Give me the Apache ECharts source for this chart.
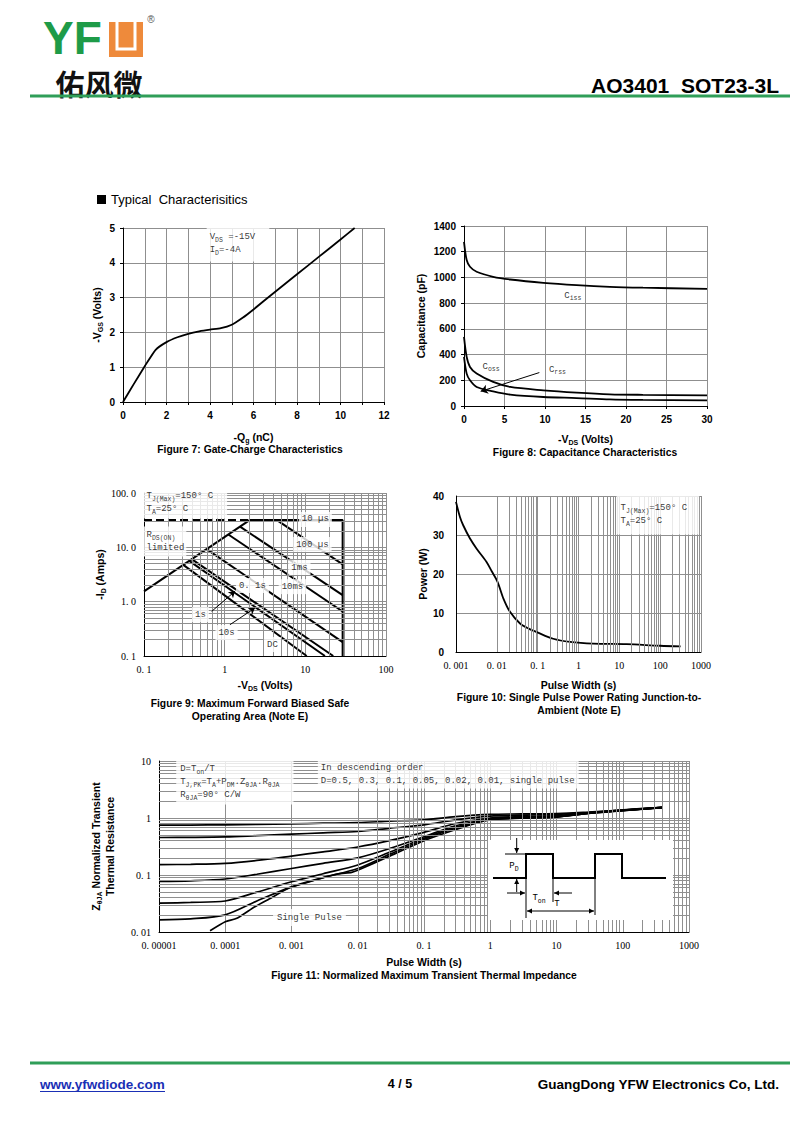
<!DOCTYPE html>
<html><head><meta charset="utf-8">
<script src="https://cdn.jsdelivr.net/npm/echarts@6/dist/echarts.min.js"></script>
<style>html,body{margin:0;padding:0;background:#fff}#c{width:800px;height:1125px}</style>
</head><body><div id="c"></div>
<script>
// ================= DATA =================
// Figure 7: Gate charge
const fig7Qg  = [0, 0.5, 1, 1.5, 2, 2.5, 3, 3.5, 4, 4.5, 5, 5.5, 6, 7, 8, 9, 10, 10.65];
const fig7Vgs = [0, 0.52, 1.03, 1.5, 1.72, 1.86, 1.96, 2.03, 2.08, 2.12, 2.22, 2.42, 2.66, 3.17, 3.67, 4.17, 4.67, 5.0];
const fig7XTicks = [0, 2, 4, 6, 8, 10, 12];

// Figure 8: Capacitance
const fig8Vds  = [0, 0.33, 0.74, 1.56, 3.6, 5.7, 9.8, 13.9, 18, 22.1, 30];
const fig8Ciss = [1277, 1135, 1083, 1044, 1005, 984, 958, 940, 927, 920, 911];
const fig8Coss = [537, 382, 304, 252, 187, 148, 122, 104, 91, 87, 83];
const fig8Crss = [382, 252, 200, 148, 114, 89, 70, 62, 52, 48, 44];
const fig8CrssPointer = [[9.3, 260], [2.06, 114]];

// Figure 9: SOA (x = -VDS, y = -ID)
const fig9XTickLabels = ['0. 1', '1', '10', '100'];
const fig9YTickLabels = ['0. 1', '1. 0', '10. 0', '100. 0'];
const fig9Rds     = [[0.1, 1.55], [2.06, 32]];
const fig9Limit   = [[0.1, 32], [2.06, 32]];
const fig9Top10us = [[2.06, 32], [29, 32], [29, 0.1]];
const fig9L100us  = [[4.4, 32], [29, 4.86]];
const fig9L1ms    = [[1.55, 24.0], [29, 1.32]];
const fig9L10ms   = [[1.11, 17.2], [29, 0.66]];
const fig9L100ms  = [[0.598, 9.27], [29, 0.18]];
const fig9L1s     = [[0.39, 6.05], [22.2, 0.1]];
const fig9L10s    = [[0.364, 5.64], [17.5, 0.1]];
const fig9LDC     = [[0.307, 4.76], [10.4, 0.1]];
const fig9Arrow1s  = [[0.69, 0.662], [1.34, 1.55]];
const fig9Arrow10s = [[1.16, 0.376], [2.37, 0.762]];

// Figure 10: single pulse power
const fig10T = [0.001, 0.00125, 0.0015, 0.0022, 0.0032, 0.0056, 0.0075, 0.0104, 0.0145, 0.021, 0.037, 0.06, 0.095, 0.24, 0.62, 2.3, 15, 100, 316];
const fig10P = [38.5, 34.6, 32.5, 29.1, 26.5, 23.1, 20.7, 18.0, 13.7, 10.3, 7.3, 6.0, 5.1, 3.4, 2.6, 2.15, 2.0, 1.6, 1.45];
const fig10XTickLabels = ['0. 001', '0. 01', '0. 1', '1', '10', '100', '1000'];

// Figure 11: transient thermal impedance
const fig11XTickLabels = ['0. 00001', '0. 0001', '0. 001', '0. 01', '0. 1', '1', '10', '100', '1000'];
const fig11YTickLabels = ['0. 01', '0. 1', '1', '10'];
const fig11T    = [1e-5, 3e-5, 1e-4, 3e-4, 1e-3, 3e-3, 1e-2, 3e-2, 0.1, 0.3, 1, 3, 10, 30, 100, 400];
const fig11D050 = [0.75, 0.752, 0.76, 0.775, 0.79, 0.81, 0.83, 0.88, 0.93, 1.06, 1.16, 1.18, 1.2, 1.27, 1.38, 1.54];
const fig11D030 = [0.455, 0.457, 0.465, 0.49, 0.52, 0.55, 0.58, 0.66, 0.76, 0.93, 1.08, 1.12, 1.16, 1.25, 1.37, 1.53];
const fig11D010 = [0.152, 0.154, 0.16, 0.18, 0.215, 0.255, 0.31, 0.40, 0.56, 0.8, 1.0, 1.06, 1.1, 1.23, 1.36, 1.53];
const fig11D005 = [0.077, 0.079, 0.085, 0.103, 0.13, 0.16, 0.2, 0.29, 0.47, 0.73, 0.96, 1.03, 1.07, 1.22, 1.36, 1.52];
const fig11D002 = [0.032, 0.033, 0.035, 0.05, 0.076, 0.105, 0.15, 0.25, 0.44, 0.69, 0.94, 1.01, 1.05, 1.21, 1.35, 1.52];
const fig11D001 = [0.0163, 0.017, 0.02, 0.035, 0.062, 0.09, 0.13, 0.23, 0.42, 0.66, 0.93, 1.0, 1.04, 1.2, 1.35, 1.52];
const fig11SingleT = [5.9e-5, 1e-4, 1.5e-4, 2.8e-4, 5e-4, 8.9e-4, 2.3e-3, 5e-3, 8.1e-3, 1.02e-2, 2.9e-2, 0.1, 0.28, 0.88, 2.8, 8.9, 29, 91, 395];
const fig11Single  = [0.0105, 0.0151, 0.0174, 0.0278, 0.04, 0.0583, 0.0817, 0.104, 0.111, 0.122, 0.21, 0.40, 0.61, 0.92, 0.99, 1.03, 1.21, 1.38, 1.54];

// ================= STYLE =================
const GRIDC = '#8f8f8f';
const SANS = '"Liberation Sans", Arial, sans-serif';
const SERIF = '"Liberation Serif", "Times New Roman", serif';
const MONO = '"Liberation Mono", "DejaVu Sans Mono", monospace';
const RICH = {
  n:  {fontFamily: MONO, fontSize: 9, lineHeight: 13, color: '#000'},
  s:  {fontFamily: MONO, fontSize: 6.5, lineHeight: 8, verticalAlign: 'bottom', color: '#000'},
  b:  {fontFamily: SANS, fontSize: 10.5, fontWeight: 'bold', lineHeight: 14, color: '#000'},
  bs: {fontFamily: SANS, fontSize: 7, fontWeight: 'bold', lineHeight: 9, verticalAlign: 'bottom', color: '#000'}
};
const zip = (xs, ys) => xs.map((x, i) => [x, ys[i]]);
const decadeFmt = (labels, min) => v => {
  const i = Math.round(Math.log10(v)) - Math.round(Math.log10(min));
  return labels[i] !== undefined ? labels[i] : '';
};

function lin(gi, data, o = {}) {
  return {type: 'line', xAxisIndex: gi, yAxisIndex: gi, data, symbol: 'none', showSymbol: false,
    silent: true, animation: false, z: 3, smooth: o.smooth || false,
    lineStyle: {color: '#000', width: o.width || 1.8, type: o.type || 'solid'}};
}
function minorGrid(gi, xr, yr, anchor) {
  const data = [];
  if (xr) for (let d = xr[0]; d < xr[1]; d++) for (let m = 2; m <= 9; m++) data.push({xAxis: +(m * Math.pow(10, d)).toPrecision(6)});
  if (yr) for (let d = yr[0]; d < yr[1]; d++) for (let m = 2; m <= 9; m++) data.push({yAxis: +(m * Math.pow(10, d)).toPrecision(6)});
  return {type: 'line', xAxisIndex: gi, yAxisIndex: gi, data: [anchor], symbol: 'none', silent: true, z: 1,
    lineStyle: {opacity: 0}, animation: false,
    markLine: {silent: true, symbol: ['none', 'none'], label: {show: false}, animation: false,
      lineStyle: {color: GRIDC, width: 1, type: 'solid'}, emphasis: {disabled: true}, data}};
}
function arrowLine(gi, pts, o = {}) {
  return {type: 'line', xAxisIndex: gi, yAxisIndex: gi, data: [pts[0]], symbol: 'none', silent: true, z: 4,
    lineStyle: {opacity: 0}, animation: false,
    markLine: {silent: true, symbol: ['none', 'arrow'], symbolSize: o.size || 7, label: {show: false}, animation: false,
      lineStyle: {color: '#000', width: 1, type: 'solid'}, emphasis: {disabled: true},
      data: [[{coord: pts[0]}, {coord: pts[1]}]]}};
}
function ann(x, y, text, o = {}) {
  return {value: [x, y], label: Object.assign({show: true, formatter: text, position: [0, 0], align: 'center',
    verticalAlign: 'middle', fontFamily: MONO, fontSize: 9, color: '#000', rich: RICH}, o)};
}
function annSeries(gi, items) {
  return {type: 'scatter', xAxisIndex: gi, yAxisIndex: gi, symbolSize: 1, itemStyle: {color: 'rgba(0,0,0,0)'},
    silent: true, z: 6, animation: false, data: items};
}

// axis helpers
function valAxis(gi, min, max, interval, o = {}) {
  return Object.assign({gridIndex: gi, type: 'value', min, max, interval,
    axisLine: {show: true, onZero: false, lineStyle: {color: '#000', width: 1}},
    axisTick: {show: true, inside: false, length: 3, lineStyle: {color: '#000'}},
    splitLine: {show: true, lineStyle: {color: GRIDC, width: 1}},
    axisLabel: {fontFamily: SANS, fontWeight: 'bold', fontSize: 10, color: '#000', margin: 8, formatter: v => String(v),
      showMinLabel: true, showMaxLabel: true, hideOverlap: false},
    nameLocation: 'middle', nameTextStyle: {rich: RICH}}, o);
}
function logAxis(gi, min, max, labels, o = {}) {
  return Object.assign({gridIndex: gi, type: 'log', logBase: 10, min, max,
    axisLine: {show: true, onZero: false, lineStyle: {color: '#000', width: 1}},
    axisTick: {show: false},
    splitLine: {show: true, lineStyle: {color: GRIDC, width: 1}},
    axisLabel: {fontFamily: SERIF, fontSize: 10, color: '#000', margin: 8, formatter: decadeFmt(labels, min), showMinLabel: true, showMaxLabel: true, hideOverlap: false},
    nameLocation: 'middle', nameTextStyle: {rich: RICH}}, o);
}

// ================= OPTION =================
const grids = [
  {left: 123, top: 228, width: 261, height: 174},
  {left: 464, top: 226, width: 243, height: 180},
  {left: 144, top: 493, width: 242, height: 163},
  {left: 456, top: 496, width: 245, height: 156},
  {left: 159, top: 761, width: 530, height: 171}
];

const xAxes = [
  valAxis(0, 0, 12, 1, {name: '{b|-Q}{bs|g}{b| (nC)}', nameGap: 28,
    axisLabel: {fontFamily: SANS, fontWeight: 'bold', fontSize: 10, color: '#000', margin: 8,
      formatter: v => fig7XTicks.includes(v) ? String(v) : ''}}),
  valAxis(1, 0, 30, 5, {name: '{b|-V}{bs|DS}{b| (Volts)}', nameGap: 26}),
  logAxis(2, 0.1, 100, fig9XTickLabels, {name: '{b|-V}{bs|DS}{b| (Volts)}', nameGap: 22}),
  logAxis(3, 0.001, 1000, fig10XTickLabels, {name: '{b|Pulse Width (s)}', nameGap: 26}),
  logAxis(4, 0.00001, 1000, fig11XTickLabels, {name: '{b|Pulse Width (s)}', nameGap: 23})
];
const yAxes = [
  valAxis(0, 0, 5, 1, {name: '{b|-V}{bs|GS}{b| (Volts)}', nameRotate: 90, nameGap: 19}),
  valAxis(1, 0, 1400, 200, {name: '{b|Capacitance (pF)}', nameRotate: 90, nameGap: 36}),
  logAxis(2, 0.1, 100, fig9YTickLabels, {name: '{b|-I}{bs|D}{b| (Amps)}', nameRotate: 90, nameGap: 35}),
  valAxis(3, 0, 40, 10, {name: '{b|Power (W)}', nameRotate: 90, nameGap: 26,
    axisTick: {show: false},
    axisLabel: {fontFamily: SANS, fontWeight: 'bold', fontSize: 10, color: '#000', margin: 12}}),
  logAxis(4, 0.01, 10, fig11YTickLabels, {name: '{b|Z}{bs|θJA}{b| Normalized Transient}\n{b|Thermal Resistance}', nameRotate: 90, nameGap: 42})
];

const series = [
  // Fig 7
  lin(0, zip(fig7Qg, fig7Vgs), {smooth: 0.15}),
  annSeries(0, [ann(3.87, 5, '{n|V}{s|DS}{n| =-15V}\n{n|I}{s|D}{n|=-4A}',
    {align: 'left', verticalAlign: 'top', backgroundColor: '#fff', padding: [3, 14, 5, 3]})]),
  // Fig 8
  lin(1, zip(fig8Vds, fig8Ciss), {smooth: 0.3}),
  lin(1, zip(fig8Vds, fig8Coss), {smooth: 0.3}),
  lin(1, zip(fig8Vds, fig8Crss), {smooth: 0.3}),
  arrowLine(1, fig8CrssPointer, {size: 7}),
  annSeries(1, [
    ann(13.5, 854, '{n|C}{s|iss}'),
    ann(3.4, 300, '{n|C}{s|oss}'),
    ann(11.6, 278, '{n|C}{s|rss}')
  ]),
  // Fig 9
  minorGrid(2, [-1, 2], [-1, 2], [0.1, 0.1]),
  lin(2, fig9Limit, {type: 'dashed', width: 2}),
  lin(2, fig9Rds, {width: 2}),
  lin(2, fig9Top10us, {width: 2}),
  lin(2, fig9L100us, {width: 2}), lin(2, fig9L1ms, {width: 2}), lin(2, fig9L10ms, {width: 2}), lin(2, fig9L100ms, {width: 2}),
  lin(2, fig9L1s, {width: 2}), lin(2, fig9L10s, {width: 2}), lin(2, fig9LDC, {width: 2}),
  arrowLine(2, fig9Arrow1s, {size: 6}),
  arrowLine(2, fig9Arrow10s, {size: 6}),
  annSeries(2, [
    ann(0.1, 100, '{n|T}{s|J(Max)}{n|=150° C}\n{n|T}{s|A}{n|=25° C}',
      {align: 'left', verticalAlign: 'top', position: [0, -4], backgroundColor: '#fff', padding: [1, 14, 3, 3]}),
    ann(0.1, 23.6, '{n|R}{s|DS(ON)}\n{n|limited}',
      {align: 'left', verticalAlign: 'top', backgroundColor: '#fff', padding: [2, 2, 2, 3]}),
    ann(13.5, 32, '{n|10 µs}', {backgroundColor: '#fff', padding: [1, 3]}),
    ann(12.4, 11.0, '{n|100 µs}', {backgroundColor: '#fff', padding: [1, 3]}),
    ann(8.57, 4.16, '{n|1ms}', {backgroundColor: '#fff', padding: [1, 3]}),
    ann(7.02, 1.85, '{n|10ms}', {backgroundColor: '#fff', padding: [1, 3]}),
    ann(2.24, 1.94, '{n|0. 1s}', {backgroundColor: '#fff', padding: [1, 3]}),
    ann(0.508, 0.566, '{n|1s}', {backgroundColor: '#fff', padding: [1, 3]}),
    ann(1.07, 0.264, '{n|10s}', {backgroundColor: '#fff', padding: [1, 3]}),
    ann(3.97, 0.159, '{n|DC}', {backgroundColor: '#fff', padding: [1, 3]})
  ]),
  // Fig 10
  minorGrid(3, [-3, 3], null, [0.001, 0]),
  lin(3, zip(fig10T, fig10P), {smooth: 0.3}),
  annSeries(3, [
    ann(8.77, 40, '{n|T}{s|J(Max)}{n|=150° C}\n{n|T}{s|A}{n|=25° C}',
      {align: 'left', verticalAlign: 'top', backgroundColor: '#fff', padding: [6, 12, 7, 4]})
  ]),
  // Fig 11
  minorGrid(4, [-5, 3], [-2, 1], [1e-5, 0.01]),
  lin(4, zip(fig11T, fig11D050), {smooth: 0.3, width: 1.7}),
  lin(4, zip(fig11T, fig11D030), {smooth: 0.3, width: 1.7}),
  lin(4, zip(fig11T, fig11D010), {smooth: 0.3, width: 1.7}),
  lin(4, zip(fig11T, fig11D005), {smooth: 0.3, width: 1.7}),
  lin(4, zip(fig11T, fig11D002), {smooth: 0.3, width: 1.7}),
  lin(4, zip(fig11T, fig11D001), {smooth: 0.3, width: 1.7}),
  lin(4, zip(fig11SingleT, fig11Single), {smooth: 0.2, width: 1.7}),
  annSeries(4, [
    ann(1.85e-5, 10, '{n|D=T}{s|on}{n|/T}\n{n|T}{s|J,PK}{n|=T}{s|A}{n|+P}{s|DM}{n|.Z}{s|θJA}{n|.R}{s|θJA}\n{n|R}{s|θJA}{n|=90° C/W}',
      {align: 'left', verticalAlign: 'top', backgroundColor: '#fff', padding: [2, 14, 3, 4]}),
    ann(2.54e-3, 10, '{n|In descending order}\n{n|D=0.5, 0.3, 0.1, 0.05, 0.02, 0.01, single pulse}',
      {align: 'left', verticalAlign: 'top', backgroundColor: '#fff', padding: [1, 4, 1, 3]}),
    ann(1.9e-3, 0.0176, '{n|Single Pulse}', {backgroundColor: '#fff', padding: [2, 4]})
  ])
];

// ================= PAGE GRAPHICS =================
const gfx = [];
const GREEN = '#2f9e58';
function T(x, y, text, o = {}) {
  gfx.push({type: 'text', x, y, silent: true, z: 100, style: Object.assign({text, fill: '#000', fontFamily: SANS,
    fontSize: 10.3, fontWeight: 'bold', align: 'center', verticalAlign: 'middle'}, o)});
}
function L(x1, y1, x2, y2, o = {}) {
  gfx.push({type: 'line', silent: true, z: 100, shape: {x1, y1, x2, y2}, style: Object.assign({stroke: '#000', lineWidth: 1}, o)});
}
function A(x1, y1, x2, y2) {
  L(x1, y1, x2, y2);
  const ang = Math.atan2(y2 - y1, x2 - x1), h = 5, w = 2.5;
  const bx = x2 - h * Math.cos(ang), by = y2 - h * Math.sin(ang);
  const px = -Math.sin(ang) * w, py = Math.cos(ang) * w;
  gfx.push({type: 'polygon', silent: true, z: 100, shape: {points: [[x2, y2], [bx + px, by + py], [bx - px, by - py]]}, style: {fill: '#000'}});
}
// header
T(43, 38, 'YF', {align: 'left', fontSize: 46, lineHeight: 36, fill: '#1e9b48'});
gfx.push({type: 'rect', silent: true, z: 100, shape: {x: 109, y: 22, width: 34, height: 35}, style: {fill: '#ee8a3b'}});
gfx.push({type: 'polyline', silent: true, z: 101, shape: {points: [[117, 22], [117, 49], [135, 49], [135, 22]]}, style: {stroke: '#fff', lineWidth: 3, fill: null}});
T(151, 19, '®', {fontSize: 10, fontWeight: 'normal', fill: '#555'});
T(99, 82.5, '佑风微', {fontFamily: '"Noto Sans CJK SC", sans-serif', fontSize: 29, lineHeight: 29, fill: '#111'});
T(779, 85, 'AO3401  SOT23-3L', {align: 'right', fontSize: 21});
L(30, 96, 790, 96, {stroke: GREEN, lineWidth: 3});
// section title
gfx.push({type: 'rect', silent: true, z: 100, shape: {x: 97, y: 195, width: 9, height: 9}, style: {fill: '#000'}});
T(111, 199.5, 'Typical  Characterisitics', {align: 'left', fontSize: 13, fontWeight: 'normal'});
// captions
T(250, 449, 'Figure 7: Gate-Charge Characteristics');
T(585, 452, 'Figure 8: Capacitance Characteristics');
T(250, 703, 'Figure 9: Maximum Forward Biased Safe');
T(250, 716, 'Operating Area (Note E)');
T(579, 697, 'Figure 10: Single Pulse Power Rating Junction-to-');
T(579, 710, 'Ambient (Note E)');
T(424, 975, 'Figure 11: Normalized Maximum Transient Thermal Impedance');
// Fig 11 inset (duty cycle sketch)
gfx.push({type: 'rect', silent: true, z: 60, shape: {x: 488, y: 840, width: 185, height: 80}, style: {fill: '#fff'}});
gfx.push({type: 'polyline', silent: true, z: 100, shape: {points: [[493, 878], [526, 878], [526, 854], [553, 854], [553, 878], [595, 878], [595, 854], [622, 854], [622, 878], [666, 878]]}, style: {stroke: '#000', lineWidth: 2, fill: null}});
L(505, 854, 526, 854);
A(516.7, 838, 516.7, 853);
A(516.7, 892, 516.7, 879);
L(526, 878, 526, 918); L(553, 878, 553, 902); L(595, 878, 595, 915);
A(507, 893, 525, 893); A(572, 893, 554, 893);
A(560, 911, 527, 911); A(560, 911, 594, 911);
gfx.push({type: 'text', x: 514, y: 866, silent: true, z: 100, style: {text: '{n|P}{s|D}', rich: RICH, align: 'center', verticalAlign: 'middle'}});
gfx.push({type: 'text', x: 539, y: 898, silent: true, z: 100, style: {text: '{n|T}{s|on}', rich: RICH, align: 'center', verticalAlign: 'middle'}});
gfx.push({type: 'text', x: 557, y: 904, silent: true, z: 100, style: {text: '{n|T}', rich: RICH, align: 'center', verticalAlign: 'middle'}});
// footer
L(30, 1063, 790, 1063, {stroke: GREEN, lineWidth: 3});
T(40, 1084, 'www.yfwdiode.com', {align: 'left', fontSize: 13.5, fill: '#1a2fb5'});
L(40, 1091.5, 165, 1091.5, {stroke: '#1a2fb5', lineWidth: 1});
T(400, 1084, '4 / 5', {fontSize: 12.5});
T(779, 1084, 'GuangDong YFW Electronics Co, Ltd.', {align: 'right', fontSize: 13.5});

const option = {
  animation: false,
  backgroundColor: '#fff',
  textStyle: {fontFamily: SANS},
  grid: grids,
  xAxis: xAxes,
  yAxis: yAxes,
  series,
  graphic: {elements: gfx}
};
const chart = echarts.init(document.getElementById('c'), null, {renderer: 'svg'});
chart.setOption(option);
</script>
</body></html>
